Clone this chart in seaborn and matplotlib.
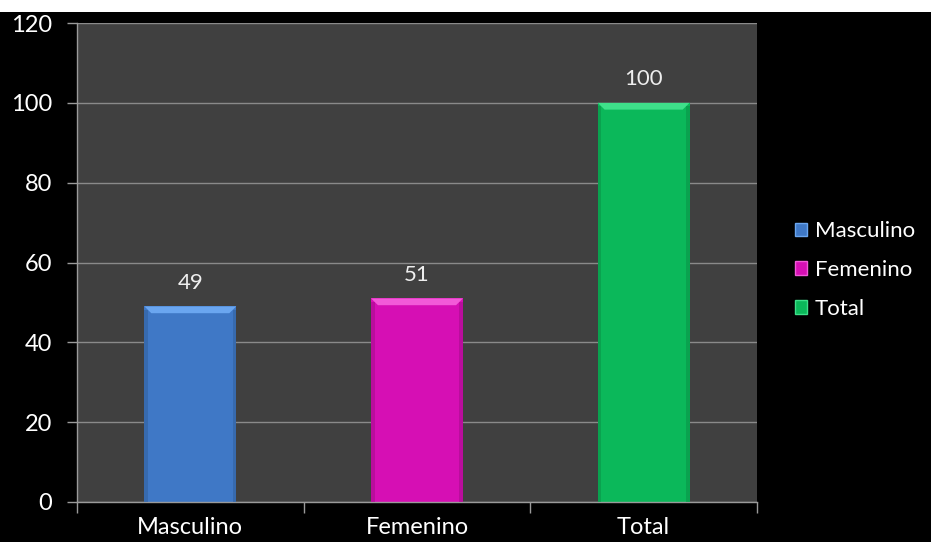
import matplotlib
matplotlib.use("Agg")
import matplotlib.pyplot as plt
from matplotlib.patches import Rectangle, Polygon
import seaborn as sns
import pandas as pd

categories = ["Masculino", "Femenino", "Total"]
values = [49, 51, 100]
colors = ["#3f78c6", "#d60fb4", "#0bb85a"]
top_colors = ["#6aa6f0", "#f25ad8", "#3ee08a"]
side_colors = ["#32629f", "#a80c8e", "#0a9449"]
y_ticks = [0, 20, 40, 60, 80, 100, 120]

sns.set_theme(style="dark")
plt.rcParams["font.family"] = ["Lato", "DejaVu Sans"]

df = pd.DataFrame({"categoria": categories, "valor": values})

fig = plt.figure(figsize=(9.31, 5.42), dpi=100, facecolor="black")
ax = fig.add_axes([77 / 931, 1 - 502 / 542, 680 / 931, 479 / 542])
ax.set_facecolor("#404040")

sns.barplot(data=df, x="categoria", y="valor", hue="categoria",
            palette=colors, width=0.405, ax=ax, legend=False,
            saturation=1, linewidth=0)

ax.set_ylim(0, 120)
ax.set_xlim(-0.5, 2.5)
ax.set_yticks(y_ticks)
ax.set_xticks(range(len(categories)))
ax.set_xticklabels(categories)
ax.set_xticks([-0.5, 0.5, 1.5, 2.5], minor=True)
ax.grid(axis="y", color="#8a8a8a", linewidth=1)
ax.grid(axis="x", visible=False)
ax.set_axisbelow(True)
ax.set_xlabel("")
ax.set_ylabel("")

for side in ["top", "right"]:
    ax.spines[side].set_visible(False)
for side in ["left", "bottom"]:
    ax.spines[side].set_visible(True)
    ax.spines[side].set_color("#9a9a9a")
    ax.spines[side].set_linewidth(1)

ax.tick_params(axis="y", which="major", left=True, length=7, width=1,
               color="#9a9a9a", labelcolor="white", labelsize=17, pad=11)
ax.tick_params(axis="x", which="major", bottom=False, length=0,
               labelcolor="white", labelsize=17, pad=11)
ax.tick_params(axis="x", which="minor", bottom=True, length=8, width=1,
               color="#9a9a9a")

# bevelled look: lighter top facet and darker side edges on each bar
bars = list(ax.patches)
for i, bar in enumerate(bars):
    x0, w, h = bar.get_x(), bar.get_width(), bar.get_height()
    dx = w * 0.075
    dy = 1.7
    ax.add_patch(Polygon([(x0, h), (x0 + w, h), (x0 + w - dx, h - dy), (x0 + dx, h - dy)],
                         closed=True, facecolor=top_colors[i], edgecolor="none", zorder=3))
    ax.add_patch(Rectangle((x0, 0), dx * 0.5, h - dy * 0.5, facecolor=side_colors[i],
                           edgecolor="none", alpha=0.6, zorder=3))
    ax.add_patch(Rectangle((x0 + w - dx * 0.5, 0), dx * 0.5, h - dy * 0.5,
                           facecolor=side_colors[i], edgecolor="none", alpha=0.6, zorder=3))
    ax.annotate(f"{values[i]}", (x0 + w / 2, h), xytext=(0, 10),
                textcoords="offset points", ha="center", va="bottom",
                color="#eeeeee", fontsize=16)

handles = [Rectangle((0, 0), 1, 1, facecolor=colors[i], edgecolor=top_colors[i], linewidth=1)
           for i in range(len(categories))]
leg = fig.legend(handles, categories, loc="center left", bbox_to_anchor=(795 / 931, 1 - 270 / 542),
                 frameon=False, fontsize=16, labelcolor="white", handlelength=0.55,
                 handleheight=0.55, handletextpad=0.35, labelspacing=0.85,
                 borderpad=0, borderaxespad=0)

# white strip along the top edge of the image
fig.add_artist(Rectangle((0, 1 - 12 / 542), 1, 12 / 542, transform=fig.transFigure,
                         facecolor="white", edgecolor="none", zorder=10))

fig.savefig("out.png", dpi=100, facecolor="black")
